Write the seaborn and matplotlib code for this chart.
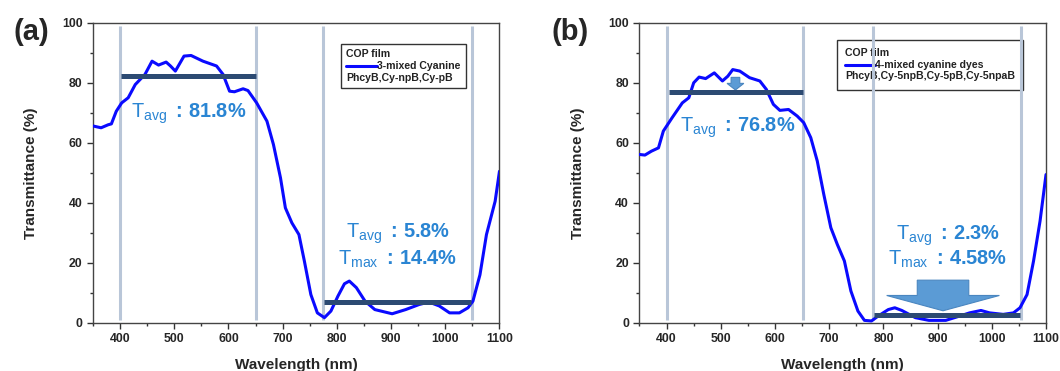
import numpy as np
import pandas as pd
import matplotlib
matplotlib.use('Agg')
import matplotlib.pyplot as plt
import seaborn as sns
from matplotlib.lines import Line2D
from matplotlib.offsetbox import AnchoredOffsetbox, TextArea, DrawingArea, HPacker, VPacker

# --- data ---
wl_a = [350, 365, 378, 384, 393, 403, 415, 428, 446, 459, 471, 485, 493, 502, 518, 531, 553, 578,
        590, 602, 611, 627, 636, 652, 671, 683, 696, 705, 717, 730, 740, 752, 764, 777, 789, 802,
        814, 823, 836, 852, 870, 902, 927, 952, 970, 989, 1008, 1026, 1042, 1051, 1064, 1076, 1092, 1100]
tr_a = [65.6, 65, 66, 66.3, 70.5, 73.3, 75, 79.4, 82.8, 87.2, 85.9, 86.9, 85.6, 83.9, 88.9, 89.1, 87.2, 85.6,
        82.8, 77.2, 77, 78, 77.4, 73.3, 67.2, 59.4, 48.3, 38.3, 33.3, 29.4, 20.6, 9.4, 3.3, 1.7, 3.9, 8.9,
        13, 13.9, 11.7, 7.2, 4.4, 3, 4.4, 6.1, 6.9, 5.6, 3.3, 3.3, 5, 7.2, 16, 29.4, 40.5, 50.5]

wl_b = [350, 360, 372, 385, 394, 410, 429, 441, 450, 460, 472, 488, 503, 513, 522, 535, 553, 572,
        584, 597, 609, 625, 641, 653, 666, 678, 690, 703, 715, 728, 740, 753, 765, 778, 790, 809,
        821, 834, 859, 884, 915, 940, 959, 980, 996, 1021, 1040, 1052, 1065, 1077, 1089, 1100]
tr_b = [56.1, 55.9, 57.2, 58.3, 63.9, 68.3, 73.3, 75, 80, 81.9, 81.4, 83.3, 80.6, 82.2, 84.4, 83.9, 81.7, 80.6,
        77.8, 72.8, 70.8, 71.1, 68.9, 66.7, 61.7, 53.9, 42.8, 31.7, 26.1, 20.6, 10.6, 3.9, 0.8, 0.6, 2.2, 4.4,
        5, 4.1, 1.7, 0.8, 0.8, 2.2, 3.3, 4.1, 3.3, 2.8, 3.3, 5, 9.4, 20.6, 33.9, 49.4]

# band edges (vertical guide lines)
edges_a = [400, 651, 774, 1050]
edges_b = [400, 651, 780, 1053]

# average levels: (value, start, end)
avg_vis_a = (82.2, 402, 650)
avg_nir_a = (7.0, 777, 1047)
avg_vis_b = (76.8, 405, 651)
avg_nir_b = (2.7, 782, 1052)

series_a = '3-mixed Cyanine'
series_b = '4-mixed cyanine dyes'
dyes_a = 'PhcyB,Cy-npB,Cy-pB'
dyes_b = 'PhcyB,Cy-5npB,Cy-5pB,Cy-5npaB'

vis_text_a = ['81.8%']
nir_text_a = ['5.8%', '14.4%']
vis_text_b = ['76.8%']
nir_text_b = ['2.3%', '4.58%']

# --- style ---
sns.set_style('ticks')
plt.rcParams['font.family'] = ['Liberation Sans', 'DejaVu Sans']
plt.rcParams['font.weight'] = 'bold'
plt.rcParams['mathtext.fontset'] = 'custom'
plt.rcParams['mathtext.rm'] = 'Liberation Sans:weight=normal'
plt.rcParams['mathtext.it'] = 'Liberation Sans:italic:weight=normal'
plt.rcParams['mathtext.bf'] = 'Liberation Sans:weight=bold'

blue = '#0a0aff'
guide = '#b9c6d8'
navy = '#2c4a72'
txt_blue = '#2a85d3'
arrow_fc = '#5b9bd5'
arrow_ec = '#4a86c0'

fig = plt.figure(figsize=(10.6, 3.71), dpi=100)
ax_a = fig.add_axes([0.0877, 0.130, 0.3835, 0.8086])
ax_b = fig.add_axes([0.6033, 0.130, 0.3835, 0.8086])


def add_key(ax, label, detail, x, y, pad):
    props = dict(size=7.6, weight='bold', color='#222222')
    da = DrawingArea(22, 7, 0, 0)
    da.add_artist(Line2D([0, 22], [3.5, 3.5], color=blue, lw=2.2))
    row = HPacker(children=[da, TextArea(label, textprops=props)], align='center', pad=0, sep=0)
    box = VPacker(children=[TextArea('COP film', textprops=props), row, TextArea(detail, textprops=props)],
                  align='left', pad=0, sep=1.2)
    anch = AnchoredOffsetbox(loc='upper right', child=box, pad=pad, borderpad=0, frameon=True,
                             bbox_to_anchor=(x, y), bbox_transform=ax.transAxes)
    anch.patch.set_edgecolor('#333333')
    anch.patch.set_linewidth(1.0)
    anch.set_zorder(1)
    ax.add_artist(anch)


def band_text(ax, x, y, sub, val):
    ax.text(x, y, 'T$_{\\mathrm{' + sub + '}}$ $\\mathbf{:}$' + '$\\mathbf{\\,' + val.replace('%', '\\%') + '}$',
            color=txt_blue, fontsize=14.4, fontweight='normal', ha='left', va='baseline', zorder=6)


panels = [
    (ax_a, wl_a, tr_a, edges_a, avg_vis_a, avg_nir_a),
    (ax_b, wl_b, tr_b, edges_b, avg_vis_b, avg_nir_b),
]

for ax, wl, tr, edges, vis, nir in panels:
    df = pd.DataFrame({'Wavelength (nm)': wl, 'Transmittance (%)': tr})
    ax.vlines(edges, 1, 99, color=guide, lw=2.2, zorder=2.5)
    sns.lineplot(data=df, x='Wavelength (nm)', y='Transmittance (%)', ax=ax, color=blue, lw=2.2, zorder=3)
    ax.hlines([vis[0], nir[0]], [vis[1], nir[1]], [vis[2], nir[2]], color=navy, lw=3.6, zorder=5)

    ax.set_xlim(350, 1100)
    ax.set_ylim(0, 100)
    ax.set_xticks(np.arange(400, 1101, 100))
    ax.set_xticks(np.arange(350, 1101, 50), minor=True)
    ax.set_yticks(np.arange(0, 101, 20))
    ax.set_yticks(np.arange(0, 101, 10), minor=True)
    ax.tick_params(which='major', direction='out', length=4.5, width=1, labelsize=8.8, pad=3,
                   top=False, right=False, color='#333333')
    ax.tick_params(which='minor', direction='out', length=2.5, width=1, top=False, right=False,
                   color='#333333')
    for lab in ax.get_xticklabels() + ax.get_yticklabels():
        lab.set_fontweight('bold')
    for sp in ax.spines.values():
        sp.set_visible(True)
        sp.set_color('#444444')
        sp.set_linewidth(1)
    ax.set_xlabel('Wavelength (nm)', fontsize=11, fontweight='bold')
    ax.set_ylabel('Transmittance (%)', fontsize=11, fontweight='bold')
    ax.xaxis.set_label_coords(0.5, -0.118)
    ax.yaxis.set_label_coords(-0.135, 0.5)

# keys
add_key(ax_a, series_a, dyes_a, 0.917, 0.93, 0.4)
add_key(ax_b, series_b, dyes_b, 0.944, 0.944, 0.6)

# annotations panel a
band_text(ax_a, 421, 68.4, 'avg', vis_text_a[0])
band_text(ax_a, 817, 28.2, 'avg', nir_text_a[0])
band_text(ax_a, 802, 19.5, 'max', nir_text_a[1])

# annotations panel b
band_text(ax_b, 425, 63.8, 'avg', vis_text_b[0])
band_text(ax_b, 824, 27.8, 'avg', nir_text_b[0])
band_text(ax_b, 809, 19.4, 'max', nir_text_b[1])
ax_b.arrow(527, 81.8, 0, -4.2, width=16, head_width=31, head_length=2.2, length_includes_head=True,
           fc=arrow_fc, ec=arrow_ec, lw=0.8, zorder=4)
ax_b.arrow(910, 14.2, 0, -10.2, width=95, head_width=208, head_length=5.1, length_includes_head=True,
           fc=arrow_fc, ec=arrow_ec, lw=0.8, zorder=4)

fig.text(0.030, 0.915, '(a)', fontsize=21, fontweight='bold', ha='center', va='center')
fig.text(0.538, 0.915, '(b)', fontsize=21, fontweight='bold', ha='center', va='center')

fig.savefig('out.png', dpi=100)
